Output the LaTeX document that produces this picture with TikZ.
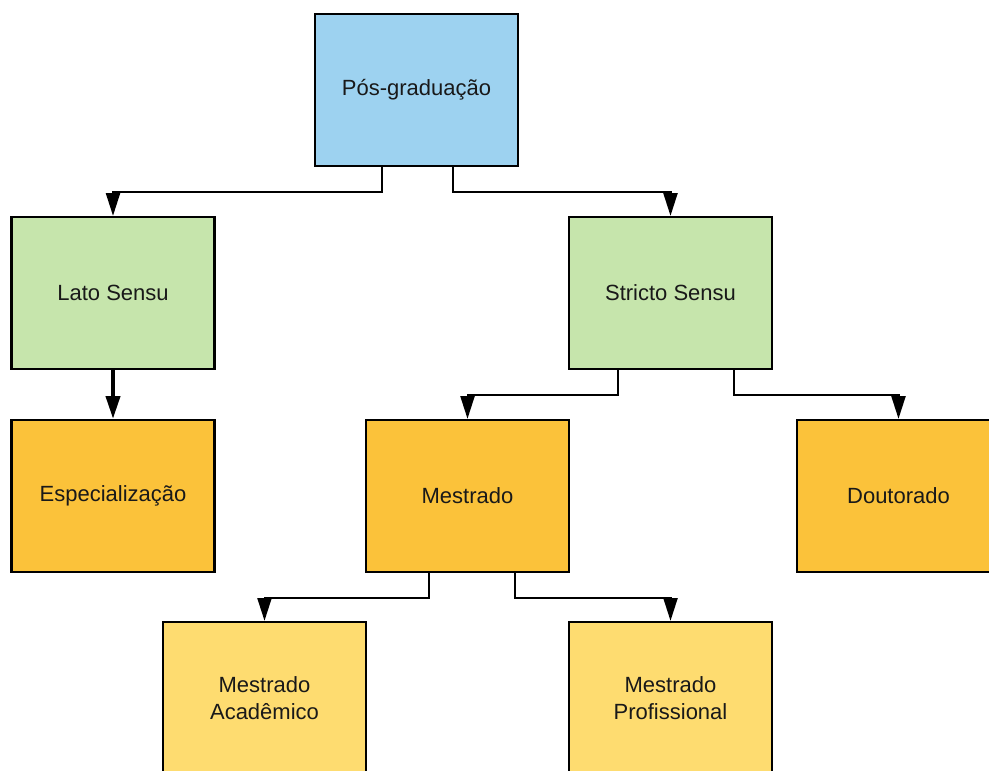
\documentclass[tikz,border=0pt]{standalone}
\usepackage{fontspec}
\setmainfont{Liberation Sans}
\usetikzlibrary{arrows.meta}
\definecolor{boxblue}{RGB}{157,210,240}
\definecolor{boxgreen}{RGB}{198,229,172}
\definecolor{boxorange}{RGB}{251,194,58}
\definecolor{boxyellow}{RGB}{254,220,112}
\tikzset{
  card/.style={draw=black, line width=1.8pt, minimum width=152.25pt, minimum height=114pt,
    inner sep=0pt, align=center, font=\fontsize{16.5}{20.5}\selectfont, text=black!90},
  conn/.style={draw=black, line width=1.5pt, -{Triangle[length=17pt,width=10.5pt]}},
  connthick/.style={conn, line width=2.8pt}
}
\begin{document}
\begin{tikzpicture}[x=0.75pt,y=-0.75pt]
\useasboundingbox (0,0) rectangle (989,771);
\clip (0,0) rectangle (989,771);
% boxes (centres in pixel units)
\node[card, fill=boxblue]   (P)  at (416.5,90)  {Pós-graduação};
\node[card, fill=boxgreen]  (L)  at (113,293)   {Lato Sensu};
\node[card, fill=boxgreen]  (S)  at (670.5,293) {Stricto Sensu};
\node[card, fill=boxorange] (E)  at (113,496)   {Especialização};
\node[card, fill=boxorange] (M)  at (467.5,496) {Mestrado};
\node[card, fill=boxorange] (D)  at (898.5,496) {Doutorado};
\node[card, fill=boxyellow] (MA) at (264.5,698) {Mestrado\\Acadêmico};
\node[card, fill=boxyellow] (MP) at (670.5,698) {Mestrado\\Profissional};
% connectors
\draw[conn] ([xshift=-34.5*0.75pt]P.south) -- ++(0,25) -| (L.north);
\draw[conn] ([xshift=36.5*0.75pt]P.south) -- ++(0,25) -| (S.north);
\draw[connthick] (L.south) -- (E.north);
\draw[conn] ([xshift=-52.5*0.75pt]S.south) -- ++(0,25) -| (M.north);
\draw[conn] ([xshift=63.5*0.75pt]S.south) -- ++(0,25) -| (D.north);
\draw[conn] ([xshift=-38.5*0.75pt]M.south) -- ++(0,25) -| (MA.north);
\draw[conn] ([xshift=47.5*0.75pt]M.south) -- ++(0,25) -| (MP.north);
\end{tikzpicture}
\end{document}
